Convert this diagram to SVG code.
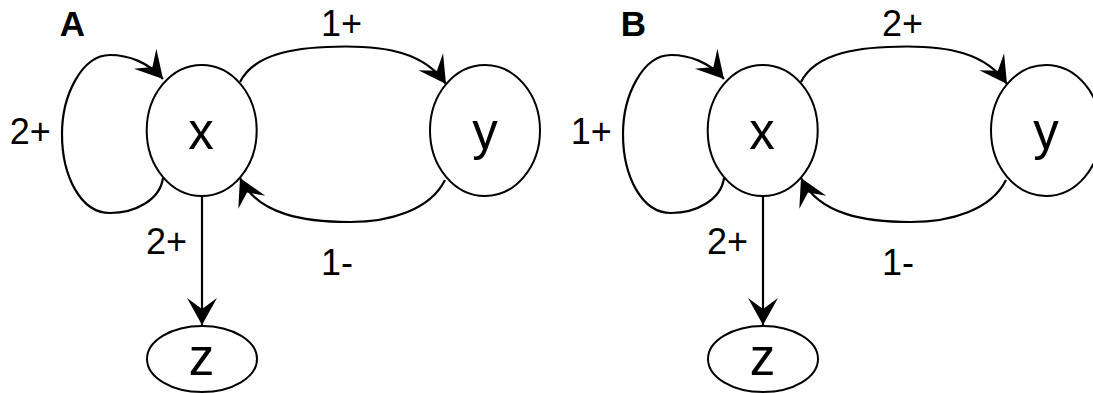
<svg xmlns="http://www.w3.org/2000/svg" width="1093" height="393" viewBox="0 0 1093 393">
<style>
text { font-family: "Liberation Sans", Arial, Helvetica, sans-serif; fill: #000; text-anchor: middle; }
.node ellipse { fill: #fff; stroke: #000; stroke-width: 2; }
.nl { font-size: 51px; }
.el { font-size: 36px; }
.panel { font-size: 35px; font-weight: bold; }
.edge { fill: none; stroke: #000; stroke-width: 2.2; marker-end: url(#arrow); }
</style>
<defs>
<marker id="arrow" markerUnits="userSpaceOnUse" markerWidth="30" markerHeight="32" viewBox="0 0 30 32" refX="28" refY="16" orient="auto" overflow="visible">
<path d="M28,16 L1,1 L12,16 L1,31 Z" fill="#000"/>
</marker>
</defs>
<rect width="1093" height="393" fill="#fff"/>

<!-- Panel A -->
<g id="panelA">
<text class="panel" x="72.5" y="35.5">A</text>
<g id="A-x" class="node"><ellipse cx="201.7" cy="130.5" rx="55" ry="65.5"/><text class="nl" x="201" y="149">x</text></g>
<g id="A-y" class="node"><ellipse cx="485" cy="130.5" rx="55" ry="65.5"/><text class="nl" x="485" y="149">y</text></g>
<g id="A-z" class="node"><ellipse cx="202" cy="359" rx="55" ry="33"/><text class="nl" x="201.5" y="375">z</text></g>
<g id="A-connectors">
<path class="edge" d="M163,178 C160,200 135,213 110,213 C80,213 62,175 62,134 C62,95 82,55 110,55 C128,55 148,62 163,79"/>
<path class="edge" d="M240,82 C255,52 300,46.5 346,46.5 C385,46.5 424,52 446,84"/>
<path class="edge" d="M445,180 C430,210 390,222 350,222 C305,222 258,215 240,178"/>
<path class="edge" d="M202,196 L202,325"/>
<text class="el" x="30.3" y="144">2+</text>
<text class="el" x="341.5" y="35.5">1+</text>
<text class="el" x="337" y="275">1-</text>
<text class="el" x="166.5" y="254">2+</text>
</g>
</g>

<!-- Panel B -->
<g id="panelB" transform="translate(561,0)">
<text class="panel" x="72.5" y="35.5">B</text>
<g id="B-x" class="node"><ellipse cx="201.7" cy="130.5" rx="55" ry="65.5"/><text class="nl" x="201" y="149">x</text></g>
<g id="B-y" class="node"><ellipse cx="485" cy="130.5" rx="55" ry="65.5"/><text class="nl" x="485" y="149">y</text></g>
<g id="B-z" class="node"><ellipse cx="202" cy="359" rx="55" ry="33"/><text class="nl" x="201.5" y="375">z</text></g>
<g id="B-connectors">
<path class="edge" d="M163,178 C160,200 135,213 110,213 C80,213 62,175 62,134 C62,95 82,55 110,55 C128,55 148,62 163,79"/>
<path class="edge" d="M240,82 C255,52 300,46.5 346,46.5 C385,46.5 424,52 446,84"/>
<path class="edge" d="M445,180 C430,210 390,222 350,222 C305,222 258,215 240,178"/>
<path class="edge" d="M202,196 L202,325"/>
<text class="el" x="30.3" y="144">1+</text>
<text class="el" x="341.5" y="35.5">2+</text>
<text class="el" x="337" y="275">1-</text>
<text class="el" x="166.5" y="254">2+</text>
</g>
</g>
</svg>
